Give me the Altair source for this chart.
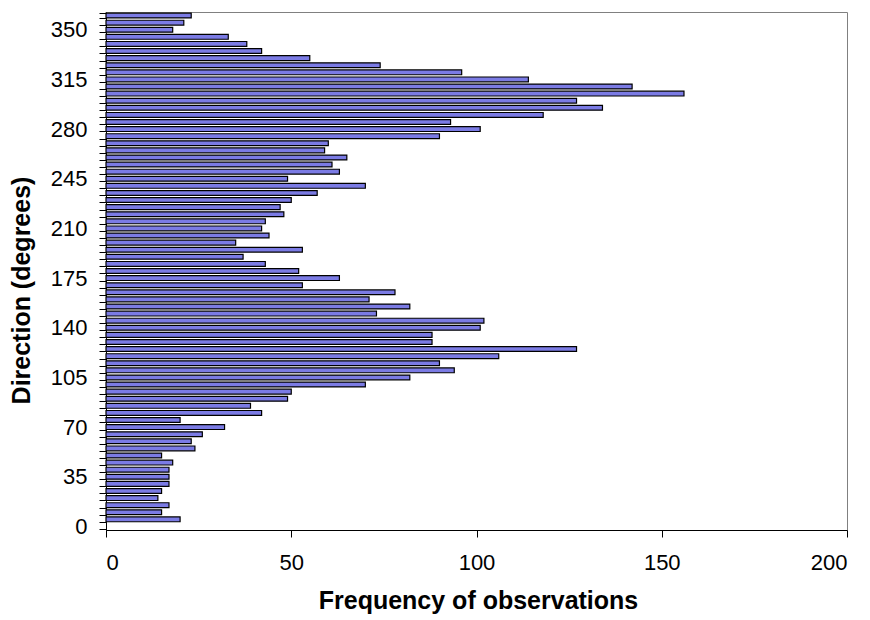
import altair as alt
import pandas as pd

# Direction categories (top of chart to bottom), 0 has no bar
directions = list(range(360, 0, -5))
all_directions = list(range(360, -5, -5))
frequency = [23, 21, 18, 33, 38, 42, 55, 74, 96, 114,
             142, 156, 127, 134, 118, 93, 101, 90, 60, 59,
             65, 61, 63, 49, 70, 57, 50, 47, 48, 43,
             42, 44, 35, 53, 37, 43, 52, 63, 53, 78,
             71, 82, 73, 102, 101, 88, 88, 127, 106, 90,
             94, 82, 70, 50, 49, 39, 42, 20, 32, 26,
             23, 24, 15, 18, 17, 17, 17, 15, 14, 17,
             15, 20]
x_ticks = [0, 50, 100, 150, 200]

df = pd.DataFrame({"direction": directions, "frequency": frequency})

FONT = "Liberation Sans"

chart = alt.Chart(df).mark_bar(
    color="#7B7BE4", stroke="black", strokeWidth=1.2
).encode(
    x=alt.X("frequency:Q",
            scale=alt.Scale(domain=[0, 200], nice=False),
            axis=alt.Axis(values=x_ticks, title="Frequency of observations",
                          grid=False, tickSize=7, labelPadding=15,
                          titleX=372, titleY=70, titleAlign="center",
                          titleBaseline="middle")),
    y=alt.Y("direction:O",
            sort=all_directions,
            scale=alt.Scale(domain=all_directions, paddingInner=0.32, paddingOuter=0.16),
            axis=alt.Axis(title="Direction (degrees)", tickBand="extent",
                          labelExpr="datum.value % 35 == 0 ? datum.label : ''",
                          tickSize=7, labelPadding=12, labelAngle=0,
                          titleX=-85, titleY=278, titleAngle=270,
                          titleAlign="center", titleBaseline="middle")),
).properties(
    width=741, height=518,
    autosize=alt.AutoSizeParams(type="none"),
    padding={"left": 98, "top": 4, "right": 14, "bottom": 90},
).configure_view(
    stroke="#808080", strokeWidth=1
).configure_axis(
    domainColor="black", tickColor="black", labelColor="black", titleColor="black",
    labelFont=FONT, titleFont=FONT, labelFontSize=22, titleFontSize=25,
    titleFontWeight="bold", domainWidth=1, tickWidth=1, labelOverlap=False
)

chart.save("out.html", embed_options={"renderer": "svg", "actions": False})
